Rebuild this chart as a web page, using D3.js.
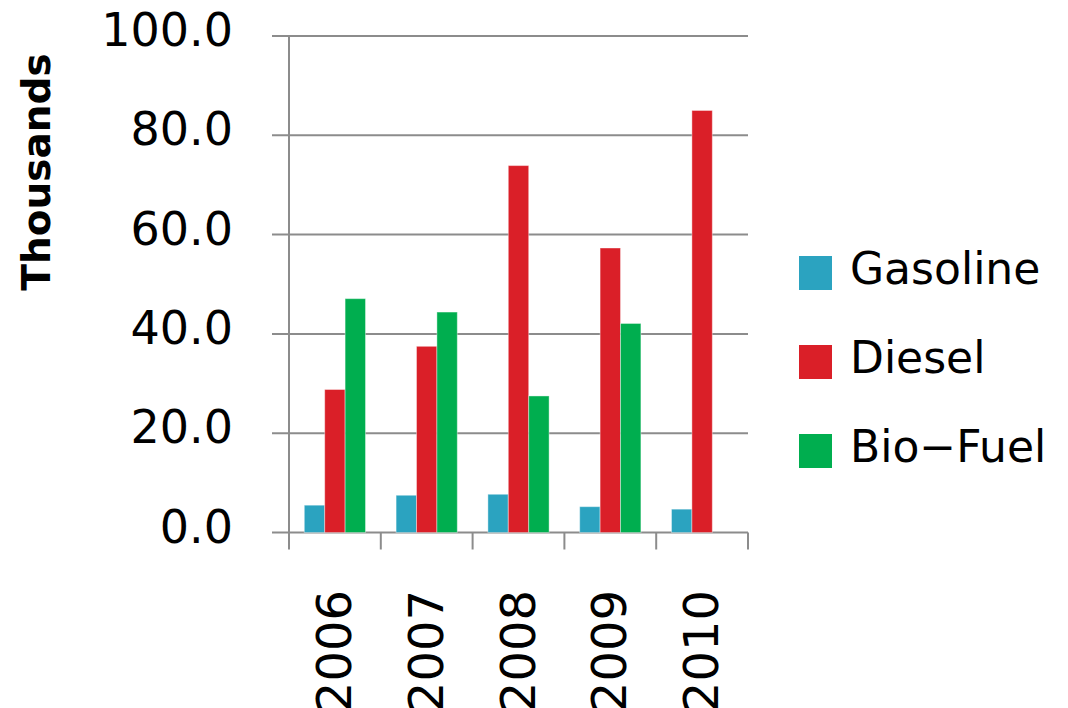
<!DOCTYPE html>
<html>
<head>
<meta charset="utf-8">
<script src="https://cdn.jsdelivr.net/npm/d3@7"></script>
<style>
  body { margin: 0; background: #fff; }
  text { font-family: "DejaVu Sans", sans-serif; fill: #000; }
</style>
</head>
<body>
<div id="chart"></div>
<script>
// data
const years = ["2006", "2007", "2008", "2009", "2010"];
const series = ["Gasoline", "Diesel", "Bio-Fuel"];
const gasoline = [5.5, 7.5, 7.7, 5.2, 4.7];
const diesel = [28.8, 37.5, 73.9, 57.3, 85.0];
const bioFuel = [47.1, 44.4, 27.5, 42.1, 0];
const yTicks = [0, 20, 40, 60, 80, 100];
const colors = ["#2ba3c0", "#da1f28", "#00ae4f"];

const rows = years.map((y, i) => ({
  year: y,
  values: [gasoline[i], diesel[i], bioFuel[i]]
}));

const width = 1068, height = 708;
const margin = { top: 36, right: 320, bottom: 175.5, left: 289 };

const svg = d3.select("#chart").append("svg")
  .attr("width", width)
  .attr("height", height);

//////////
// AXES //
//////////

const x0 = d3.scaleBand()
  .domain(years)
  .range([margin.left, width - margin.right])
  .paddingInner(0).paddingOuter(0);

const x1 = d3.scaleBand()
  .domain(series)
  .range([0, x0.bandwidth()])
  .paddingInner(0).paddingOuter(0.75);

const y = d3.scaleLinear()
  .domain([0, 100])
  .range([height - margin.bottom, margin.top]);

const gridColor = "#8c8c8c";

// gridlines (they run out past the axis as the ticks)
svg.append("g")
  .selectAll("line")
  .data(yTicks)
  .enter().append("line")
  .attr("x1", margin.left - 17)
  .attr("x2", width - margin.right)
  .attr("y1", d => y(d))
  .attr("y2", d => y(d))
  .attr("stroke", gridColor)
  .attr("stroke-width", 2);

// y tick labels
svg.append("g")
  .selectAll("text")
  .data(yTicks)
  .enter().append("text")
  .attr("x", margin.left - 56)
  .attr("y", d => y(d) + 10)
  .attr("text-anchor", "end")
  .style("font-size", "46px")
  .text(d => d3.format(".1f")(d));

// y axis line
svg.append("line")
  .attr("x1", margin.left).attr("x2", margin.left)
  .attr("y1", y(100)).attr("y2", y(0) + 17)
  .attr("stroke", gridColor)
  .attr("stroke-width", 2);

// x ticks at band boundaries
const bounds = years.map(d => x0(d)).concat([x0.range()[1]]);
svg.append("g")
  .selectAll("line")
  .data(bounds.slice(1))
  .enter().append("line")
  .attr("x1", d => d).attr("x2", d => d)
  .attr("y1", y(0)).attr("y2", y(0) + 17)
  .attr("stroke", gridColor)
  .attr("stroke-width", 2);

// x labels, rotated (the reference lets them run off the bottom edge)
svg.append("g")
  .selectAll("text")
  .data(years)
  .enter().append("text")
  .attr("transform", d => "translate(" + (x0(d) + x0.bandwidth() / 2 + 16) + "," + 590 + ") rotate(-90)")
  .attr("text-anchor", "end")
  .style("font-size", "48px")
  .text(d => d);

// y axis title
svg.append("text")
  .attr("transform", "translate(50,172) rotate(-90)")
  .attr("text-anchor", "middle")
  .style("font-size", "39px")
  .style("font-weight", "bold")
  .text("Thousands");

//////////
// BARS //
//////////

const groups = svg.append("g")
  .selectAll("g")
  .data(rows)
  .enter().append("g")
  .attr("transform", d => "translate(" + x0(d.year) + ",0)");

groups.selectAll("rect")
  .data(d => d.values.map((v, i) => ({ key: series[i], value: v, color: colors[i] })))
  .enter().append("rect")
  .filter(d => d.value > 0)
  .attr("x", d => x1(d.key))
  .attr("width", x1.bandwidth())
  .attr("y", d => y(d.value))
  .attr("height", d => y(0) - y(d.value))
  .attr("fill", d => d.color)
  .attr("stroke", "#fff")
  .attr("stroke-opacity", 0.4)
  .attr("stroke-width", 1);

////////////
// LEGEND //
////////////

const legend = svg.append("g")
  .selectAll("g")
  .data(series)
  .enter().append("g")
  .attr("transform", (d, i) => "translate(799," + (256 + i * 89) + ")");

legend.append("rect")
  .attr("width", 33)
  .attr("height", 34)
  .attr("fill", (d, i) => colors[i]);

// the reference draws the hyphen as a long dash
legend.append("text")
  .attr("x", 51)
  .attr("y", 28)
  .style("font-size", "44px")
  .text(d => d.replace("-", "\u2212"));
</script>
</body>
</html>
